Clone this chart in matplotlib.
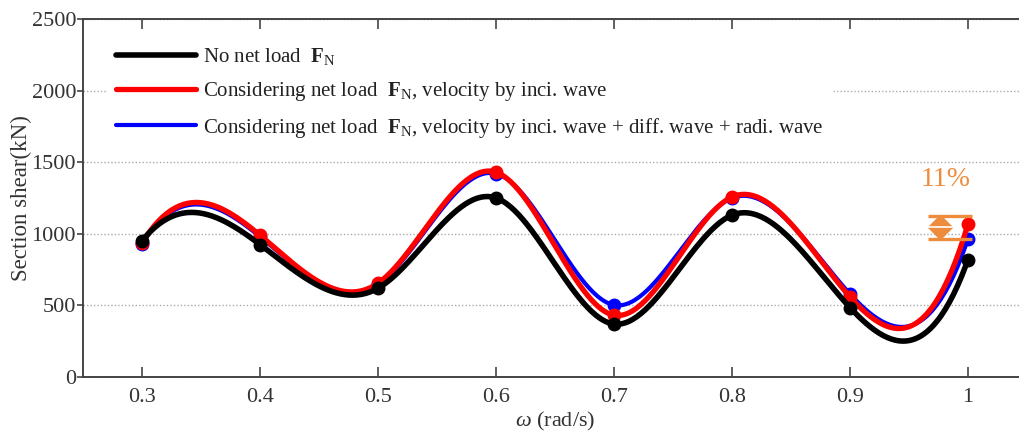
import numpy as np
import matplotlib
matplotlib.use('Agg')
import matplotlib.pyplot as plt

plt.rcParams['font.family'] = ['Liberation Serif', 'DejaVu Serif']
plt.rcParams['mathtext.fontset'] = 'custom'
plt.rcParams['mathtext.rm'] = 'Liberation Serif'
plt.rcParams['mathtext.it'] = 'Liberation Serif:italic'
plt.rcParams['mathtext.bf'] = 'Liberation Serif:bold'

# data
omega = [0.3, 0.4, 0.5, 0.6, 0.7, 0.8, 0.9, 1.0]
no_load = [950, 925, 620, 1250, 370, 1130, 485, 820]
inci = [935, 990, 655, 1430, 432, 1257, 560, 1068]
inci_diff_radi = [930, 980, 650, 1420, 503, 1250, 580, 964]

labels = [r'No net load  $\mathbf{F}_\mathrm{N}$',
          r'Considering net load  $\mathbf{F}_\mathrm{N}$, velocity by inci. wave',
          r'Considering net load  $\mathbf{F}_\mathrm{N}$, velocity by inci. wave + diff. wave + radi. wave']
yticks = [0, 500, 1000, 1500, 2000, 2500]
xticks = [0.3, 0.4, 0.5, 0.6, 0.7, 0.8, 0.9, 1.0]
xticklabels = ['0.3', '0.4', '0.5', '0.6', '0.7', '0.8', '0.9', '1']
gap_lo, gap_hi = 965, 1125
gap_text = '11%'

orange = '#EE8C3E'


def spline(x, y, num=400):
    # not-a-knot cubic spline, equal spacing
    x = np.asarray(x, float)
    y = np.asarray(y, float)
    n = len(x)
    h = x[1] - x[0]
    A = np.zeros((n, n))
    r = np.zeros(n)
    A[0, :3] = [1, -2, 1]
    A[-1, -3:] = [1, -2, 1]
    for i in range(1, n - 1):
        A[i, i - 1:i + 2] = [1, 4, 1]
        r[i] = 6. / h ** 2 * (y[i + 1] - 2 * y[i] + y[i - 1])
    M = np.linalg.solve(A, r)
    xs = np.linspace(x[0], x[-1], num)
    idx = np.clip(((xs - x[0]) / h).astype(int), 0, n - 2)
    t = xs - x[idx]
    b = (y[idx + 1] - y[idx]) / h - h * (2 * M[idx] + M[idx + 1]) / 6.
    ys = y[idx] + b * t + M[idx] / 2. * t ** 2 + (M[idx + 1] - M[idx]) / (6 * h) * t ** 3
    return xs, ys


fig = plt.figure(figsize=(10.2, 4.34), dpi=100)
ax = fig.add_axes([83 / 1020, 57 / 434, 944 / 1020, 358 / 434])

series = [(inci_diff_radi, 'blue', 3.0, 2), (inci, 'red', 3.8, 1), (no_load, 'black', 4.0, 0)]
handles = [None, None, None]
for vals, col, lw, k in series:
    xs, ys = spline(omega, vals)
    line, = ax.plot(xs, ys, color=col, lw=lw, solid_capstyle='round', zorder=3 + (2 - k))
    ax.plot(omega, vals, 'o', color=col, ms=9, zorder=3 + (2 - k))
    handles[k] = line

# 11% gap marker
ax.hlines([gap_lo, gap_hi], 0.966, 1.003, color=orange, lw=2.4, zorder=6)
ax.plot(0.976, (gap_lo + gap_hi) / 2, marker='D', color=orange, ms=12, zorder=6)
ax.hlines((gap_lo + gap_hi) / 2, 0.964, 0.988, color='white', lw=1.2, zorder=7)
ax.text(0.981, 1376, gap_text, color=orange, fontsize=20, ha='center', va='center')

ax.set_xlim(0.25, 1.05)
ax.set_ylim(0, 2500)
ax.set_xticks(xticks)
ax.set_xticklabels(xticklabels)
ax.set_yticks(yticks)
ax.yaxis.grid(True, color='#AAAAAA', lw=1.0, linestyle=(0, (1, 1.5)))
ax.set_axisbelow(True)

for s in ax.spines.values():
    s.set_color('#444444')
    s.set_linewidth(1.4)
ax.tick_params(axis='x', direction='in', top=True, length=7, width=1.2, color='#444444',
               labelsize=16, labelcolor='#333333', pad=8)
ax.tick_params(axis='y', direction='out', length=4, width=1.2, color='#444444',
               labelsize=16, labelcolor='#333333', pad=1)

ax.set_xlabel(r'$\omega$ (rad/s)', fontsize=16, color='#333333', labelpad=2)
ax.set_ylabel('Section shear(kN)', fontsize=16.5, color='#333333', labelpad=0)

leg = ax.legend(handles, labels, loc='upper left', bbox_to_anchor=(0.026, 0.948),
                fontsize=15, handlelength=3.85, handletextpad=0.34, labelspacing=0.62,
                frameon=True, fancybox=False, borderaxespad=0)
leg.get_frame().set_facecolor('white')
leg.get_frame().set_edgecolor('white')
leg.get_frame().set_alpha(1)
for t in leg.get_texts():
    t.set_color('#222222')

fig.savefig('out.png', dpi=100)
